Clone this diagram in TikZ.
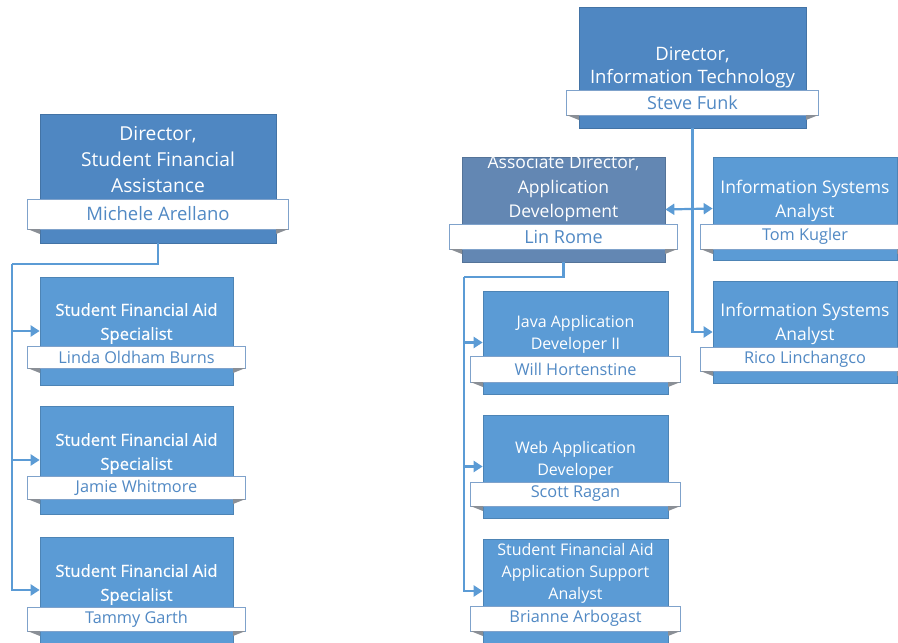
\documentclass[tikz,border=0pt]{standalone}
\usepackage{fontspec}
\setmainfont{Open Sans}
\newfontface\sidefont{Open Sans}[FakeBold=0.7]
\usetikzlibrary{arrows.meta,fit}

\definecolor{cardblue}{HTML}{5B9BD5}
\definecolor{dirblue}{HTML}{4F87C2}
\definecolor{assocblue}{HTML}{6387B3}
\definecolor{namecol}{HTML}{5189C4}
\definecolor{bandline}{HTML}{7FA2CB}
\definecolor{linkblue}{HTML}{5B9BD5}
\definecolor{foldgray}{HTML}{8A8F96}

\tikzset{
  cardbox/.style={fill=cardblue, draw=cardblue!85!black, line width=0.7pt, inner sep=0pt},
  dircard/.style={fill=dirblue, draw=dirblue!85!black},
  assoccard/.style={fill=assocblue, draw=assocblue!85!black},
  nameband/.style={fill=white, draw=bandline, line width=1pt, inner sep=0pt},
  fold/.style={fill=foldgray},
  titletext/.style={text=white, align=center, inner sep=0pt, anchor=south,
    text depth=4pt, font=\fontsize{16}{22}\selectfont},
  ittitle/.style={font=\fontsize{18.5}{23}\selectfont},
  isatitle/.style={font=\fontsize{17.5}{24}\selectfont},
  assoctitle/.style={font=\fontsize{17.5}{24.5}\selectfont},
  sfatitle/.style={font=\fontsize{19.2}{26}\selectfont},
  sidetitle/.style={font=\fontsize{16.6}{24}\sidefont},
  nametext/.style={text=namecol, inner sep=0pt, font=\fontsize{16.3}{20}\selectfont},
  bigname/.style={font=\fontsize{18}{20}\selectfont},
  sfaname/.style={font=\fontsize{18.5}{20}\selectfont},
  link/.style={draw=linkblue, line width=2.2pt},
  tip/.style={-{Triangle[length=9pt,width=11pt]}},
  twotip/.style={{Triangle[length=9pt,width=11pt]}-{Triangle[length=9pt,width=11pt]}},
}

% \orgcard[box style]{name}{left}{top}{right}{bottom}{band top}{band bottom}
\newcommand\orgcard[8][]{%
  \node[cardbox,#1,fit={(#3,#4) (#5,#6)}] (#2) {};
  \node[nameband,fit={({#3-12.5},#7) ({#5+12.5},#8)}] (#2-band) {};
  \fill[fold] ({#3-12.5},#8) -- (#3,#8) -- (#3,{#8+5}) -- cycle;
  \fill[fold] ({#5+12.5},#8) -- (#5,#8) -- (#5,{#8+5}) -- cycle;
  \gdef\lastcard{#2}%
  \gdef\lastmid{(#3+#5)/2}%
  \gdef\lasttop{#7}%
}
% \cardtext[title style][name style]{title}{person}
\newcommand\cardtext[3][]{%
  \node[titletext,#1] (\lastcard-title) at ({\lastmid},{\lasttop-2}) {#2};
  \node[nametext,\namestyle] (\lastcard-name) at (\lastcard-band.center) {#3};
  \gdef\namestyle{}%
}
\def\namestyle{}

\begin{document}
\begin{tikzpicture}[x=1pt,y=-1pt]
\useasboundingbox (0,0) rectangle (898,643);

% ---- Student Financial Assistance ----
\orgcard[dircard]{sfadir}{40}{114}{276}{243}{199}{229}
\gdef\namestyle{sfaname}
\cardtext[sfatitle]{Director,\\Student Financial\\Assistance}{Michele Arellano}

\orgcard{spec1}{40}{277}{233}{385}{346}{368}
\cardtext[sidetitle]{Student Financial Aid\\Specialist}{Linda Oldham Burns}

\orgcard{spec2}{40}{406}{233}{514}{476}{499}
\cardtext[sidetitle]{Student Financial Aid\\Specialist}{Jamie Whitmore}

\orgcard{spec3}{40}{537}{233}{643}{607}{631}
\cardtext[sidetitle]{Student Financial Aid\\Specialist}{Tammy Garth}

% ---- Information Technology ----
\orgcard[dircard]{itdir}{579}{7}{806}{128}{90}{115}
\gdef\namestyle{bigname}
\cardtext[ittitle]{Director,\\Information Technology}{Steve Funk}

\orgcard[assoccard]{assoc}{462}{157}{665}{262}{224}{249}
\gdef\namestyle{bigname}
\cardtext[assoctitle]{Associate Director,\\Application\\Development}{Lin Rome}

\orgcard{isa1}{713}{157}{897}{260}{224}{249}
\cardtext[isatitle]{Information Systems\\Analyst}{Tom Kugler}

\orgcard{isa2}{713}{281}{897}{383}{347}{371}
\cardtext[isatitle]{Information Systems\\Analyst}{Rico Linchangco}

\orgcard{java}{483}{291}{668}{394}{356}{382}
\cardtext{Java Application\\Developer II}{Will Hortenstine}

\orgcard{web}{483}{415}{668}{518}{482}{506}
\cardtext{Web Application\\Developer}{Scott Ragan}

\orgcard{sfaas}{483}{539}{668}{643}{606}{631}
\cardtext{Student Financial Aid\\Application Support\\Analyst}{Brianne Arbogast}

% ---- connectors ----
\coordinate (sfatrunk) at (12,264);
\draw[link] (sfadir.south) |- (sfatrunk);
\draw[link,tip] (sfatrunk) |- (spec3.west);
\draw[link,tip] (sfatrunk |- spec1.west) -- (spec1.west);
\draw[link,tip] (sfatrunk |- spec2.west) -- (spec2.west);

\draw[link,tip] (itdir.south) |- (isa2.west);
\draw[link,twotip] (assoc.east) -- (isa1.west);

\coordinate (apptrunk) at (464,277);
\draw[link] (assoc.south) |- (apptrunk);
\draw[link,tip] (apptrunk) |- (sfaas.west);
\draw[link,tip] (apptrunk |- java.west) -- (java.west);
\draw[link,tip] (apptrunk |- web.west) -- (web.west);
\end{tikzpicture}
\end{document}
